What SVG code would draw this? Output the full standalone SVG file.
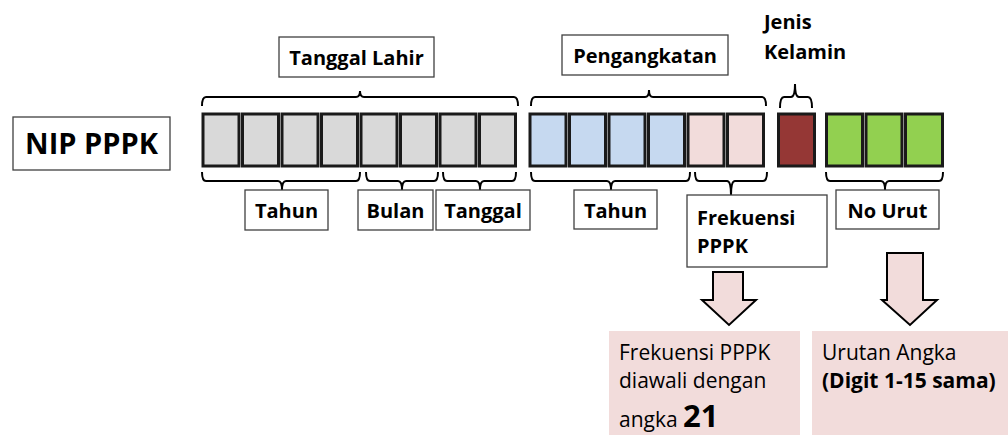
<svg xmlns="http://www.w3.org/2000/svg" width="1008" height="435" viewBox="0 0 1008 435">
<style>
text{font-family:"Open Sans","Liberation Sans",sans-serif;fill:#000}
.b{font-weight:bold}
.lbl{font-size:20px;font-weight:bold}
.box{fill:#fff;stroke:#404040;stroke-width:1.3}
.cell{stroke:#1a1a1a;stroke-width:3}
.g{fill:#d9d9d9}.bl{fill:#c6d9f0}.pk{fill:#f2dcdb}.rd{fill:#953735}.gr{fill:#92d050}
.br{fill:none;stroke:#000;stroke-width:2}
.arr{fill:#f2dcdb;stroke:#000;stroke-width:2}
.note{font-size:21px}
</style>
<rect width="1008" height="435" fill="#fff"/>
<g id="nip">
<rect class="box" x="13" y="117" width="157" height="53"/>
<text x="91.5" y="154" text-anchor="middle" style="font-size:29px;font-weight:bold">NIP PPPK</text>
</g>
<g id="cells">
<rect class="cell g" x="203" y="114" width="36" height="52"/>
<rect class="cell g" x="242.5" y="114" width="36" height="52"/>
<rect class="cell g" x="282" y="114" width="36" height="52"/>
<rect class="cell g" x="321.5" y="114" width="36" height="52"/>
<rect class="cell g" x="361" y="114" width="36" height="52"/>
<rect class="cell g" x="400.5" y="114" width="36" height="52"/>
<rect class="cell g" x="440" y="114" width="36" height="52"/>
<rect class="cell g" x="479.5" y="114" width="36" height="52"/>
<rect class="cell bl" x="530" y="114" width="36" height="52"/>
<rect class="cell bl" x="569.5" y="114" width="36" height="52"/>
<rect class="cell bl" x="609" y="114" width="36" height="52"/>
<rect class="cell bl" x="648.5" y="114" width="36" height="52"/>
<rect class="cell pk" x="688" y="114" width="36" height="52"/>
<rect class="cell pk" x="727.5" y="114" width="36" height="52"/>
<rect class="cell rd" x="778.5" y="114" width="36" height="52"/>
<rect class="cell gr" x="826.5" y="114" width="36" height="52"/>
<rect class="cell gr" x="866" y="114" width="36" height="52"/>
<rect class="cell gr" x="905.5" y="114" width="37" height="52"/>
</g>
<g id="connectors">
<path class="br" d="M202,106 Q202,97 206,97 L356,97 Q360,97 360,91 Q360,97 364,97 L514,97 Q518,97 518,106"/>
<path class="br" d="M531,106 Q531,97 535,97 L645,97 Q649,97 649,90 Q649,97 653,97 L762,97 Q766,97 766,106"/>
<path class="br" d="M780,108 Q780,97 784,97 L791,97 Q795,97 795,84 Q795,97 799,97 L808,97 Q812,97 812,108"/>
<path class="br" d="M202,172 Q202,181 206,181 L278,181 Q282,181 282,190 Q282,181 286,181 L356,181 Q360,181 360,172"/>
<path class="br" d="M366,172 Q366,181 370,181 L398,181 Q402,181 402,190 Q402,181 406,181 L434,181 Q438,181 438,172"/>
<path class="br" d="M443,172 Q443,181 447,181 L476,181 Q480,181 480,190 Q480,181 484,181 L512,181 Q516,181 516,172"/>
<path class="br" d="M531,172 Q531,181 535,181 L607,181 Q611,181 611,190 Q611,181 615,181 L686,181 Q690,181 690,172"/>
<path class="br" d="M695,172 Q695,181 699,181 L727,181 Q731,181 731,195 Q731,181 735,181 L763,181 Q767,181 767,172"/>
<path class="br" d="M826,172 Q826,181 830,181 L881,181 Q885,181 885,190 Q885,181 889,181 L939,181 Q943,181 943,172"/>
<path class="arr" d="M713,272 L743,272 L743,300 L756,300 L729,325 L702,300 L713,300 Z"/>
<path class="arr" d="M887,253 L923,253 L923,300 L937,300 L910,325 L882,300 L887,300 Z"/>
</g>
<g id="tanggal-lahir">
<rect class="box" x="279" y="37" width="155" height="40"/>
<text class="lbl" x="356.5" y="65" text-anchor="middle">Tanggal Lahir</text>
</g>
<g id="pengangkatan">
<rect class="box" x="562" y="35" width="166" height="40"/>
<text class="lbl" x="645" y="63" text-anchor="middle">Pengangkatan</text>
</g>
<g id="jenis-kelamin">
<text class="lbl" x="764" y="29">Jenis</text>
<text class="lbl" x="764" y="59">Kelamin</text>
</g>
<g id="tahun1">
<rect class="box" x="245" y="190" width="83" height="40"/>
<text class="lbl" x="286.5" y="218" text-anchor="middle">Tahun</text>
</g>
<g id="bulan">
<rect class="box" x="358" y="190" width="75" height="40"/>
<text class="lbl" x="395.5" y="218" text-anchor="middle">Bulan</text>
</g>
<g id="tanggal">
<rect class="box" x="436" y="190" width="94" height="40"/>
<text class="lbl" x="483" y="218" text-anchor="middle">Tanggal</text>
</g>
<g id="tahun2">
<rect class="box" x="574" y="190" width="83" height="39"/>
<text class="lbl" x="615.5" y="218" text-anchor="middle">Tahun</text>
</g>
<g id="frekuensi">
<rect class="box" x="687" y="195" width="140" height="72"/>
<text class="lbl" x="697" y="225">Frekuensi</text>
<text class="lbl" x="697" y="253">PPPK</text>
</g>
<g id="no-urut">
<rect class="box" x="836" y="190" width="103" height="39"/>
<text class="lbl" x="887.5" y="218" text-anchor="middle">No Urut</text>
</g>
<g id="note-frekuensi">
<rect x="609" y="331" width="191" height="104" fill="#f2dcdb"/>
<text class="note" x="619" y="360">Frekuensi PPPK</text>
<text class="note" x="619" y="388">diawali dengan</text>
<text class="note" x="619" y="427">angka <tspan class="b" style="font-size:31px">21</tspan></text>
</g>
<g id="note-urutan">
<rect x="812" y="331" width="196" height="104" fill="#f2dcdb"/>
<text class="note" x="822" y="360">Urutan Angka</text>
<text class="note b" x="822" y="388">(Digit 1-15 sama)</text>
</g>
</svg>
